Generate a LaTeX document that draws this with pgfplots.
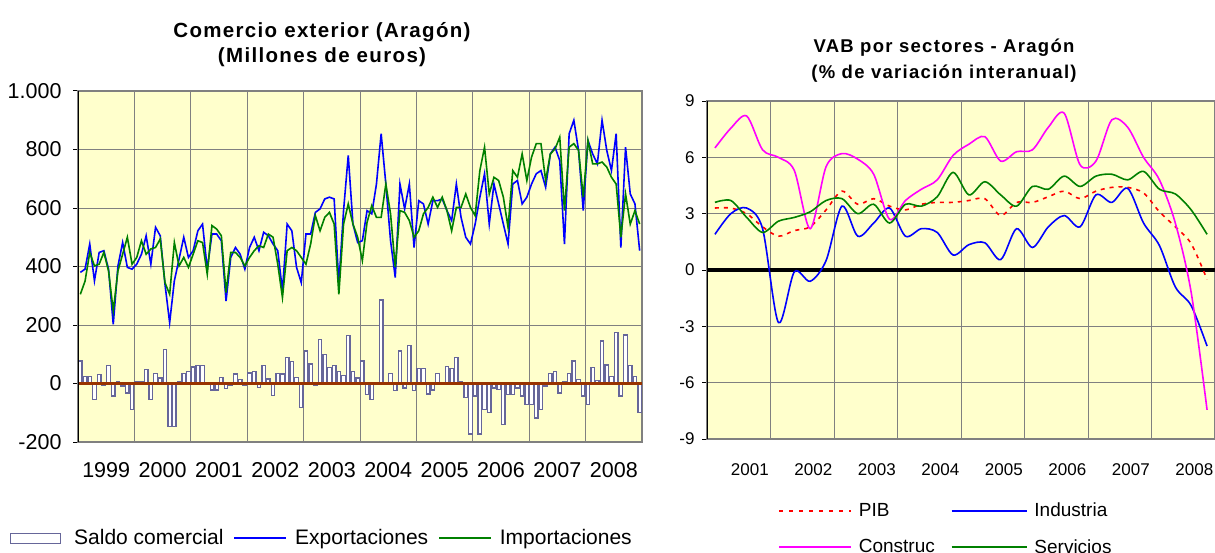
\documentclass[border=0pt]{standalone}
\usepackage{pgfplots}
\usepackage{pgfplotstable}
\pgfplotsset{compat=1.18}
\usepackage{fontspec}
\setmainfont{Liberation Sans}
\newfontfamily\titlefontA[LetterSpace=6.5]{Liberation Sans}
\newfontfamily\titlefontB[LetterSpace=7]{Liberation Sans}
\definecolor{bgy}{RGB}{255,255,204}
\definecolor{gridg}{RGB}{128,128,128}
\definecolor{slate}{RGB}{102,102,153}
\definecolor{brn}{RGB}{153,51,0}
\definecolor{dgreen}{RGB}{0,128,0}
\definecolor{pblue}{RGB}{0,0,255}
\definecolor{pred}{RGB}{255,0,0}
\definecolor{ppink}{RGB}{255,0,255}

\pgfplotstableread{
i exp imp sal
0 380 305 77
1 391 350 25
2 477 448 25
3 351 402 -55
4 448 408 31
5 454 448 -8
6 391 385 62
7 202 248 -43
8 402 385 8
9 482 442 -9
10 397 500 -32
11 391 408 -89
12 408 431 5
13 442 488 8
14 505 442 48
15 408 460 -55
16 534 465 33
17 505 494 19
18 340 345 117
19 208 305 -146
20 351 482 -146
21 425 402 8
22 500 431 35
23 431 397 40
24 454 442 56
25 522 488 62
26 545 482 62
27 391 374 2
28 511 540 -22
29 511 528 -22
30 488 505 20
31 282 311 -16
32 431 448 -6
33 465 448 32
34 442 431 14
35 391 402 -6
36 465 431 36
37 500 454 40
38 454 471 -14
39 517 465 62
40 505 511 15
41 477 500 -42
42 454 408 33
43 317 294 32
44 545 454 89
45 522 465 76
46 397 454 20
47 345 431 -82
48 511 408 111
49 511 477 67
50 585 574 -5
51 597 522 150
52 631 568 99
53 637 585 54
54 631 545 62
55 340 305 40
56 591 545 27
57 780 614 165
58 545 545 40
59 482 500 19
60 488 420 77
61 591 551 -38
62 580 608 -55
63 682 568 0
64 854 568 285
65 682 682 0
66 488 580 33
67 362 397 -23
68 682 591 111
69 597 585 -15
70 682 557 130
71 465 500 -23
72 625 522 51
73 614 580 51
74 545 602 -36
75 625 637 -22
76 625 602 34
77 631 637 0
78 591 591 57
79 557 522 51
80 682 602 88
81 568 602 8
82 500 648 -49
83 477 602 -173
84 545 574 -43
85 637 728 -173
86 717 808 -89
87 545 648 -100
88 682 705 -15
89 614 694 -20
90 545 637 -140
91 477 534 -38
92 682 728 -38
93 694 705 -15
94 614 785 -43
95 637 694 -72
96 682 774 -72
97 717 820 -118
98 728 820 -89
99 671 694 -9
100 785 785 33
101 808 802 40
102 762 842 -32
103 477 591 5
104 854 808 33
105 900 820 77
106 797 797 14
107 591 637 -43
108 831 831 -72
109 785 751 54
110 751 751 10
111 900 757 145
112 797 740 63
113 728 705 25
114 854 682 174
115 465 500 -43
116 808 648 166
117 648 545 62
118 614 591 25
119 454 545 -100
}\comercio

\pgfplotstableread{
k pib ind con ser
0 3.3 1.9 6.5 3.6
1 3.3 3.0 7.55 3.7
2 3.0 3.3 8.2 2.8
3 2.3 2.2 6.4 2.0
4 1.8 -2.8 6.0 2.6
5 2.1 -0.1 5.3 2.8
6 2.3 -0.6 2.2 3.1
7 3.2 0.5 5.5 3.7
8 4.2 3.4 6.2 3.8
9 3.5 1.8 5.9 3.0
10 3.8 2.5 5.1 3.5
11 3.4 3.3 2.7 2.5
12 3.2 1.8 3.7 3.5
13 3.5 2.2 4.3 3.4
14 3.6 2.0 4.8 3.9
15 3.6 0.8 6.1 5.2
16 3.7 1.35 6.7 4.0
17 3.8 1.45 7.1 4.7
18 2.9 0.55 5.8 4.0
19 3.6 2.2 6.3 3.4
20 3.6 1.2 6.4 4.45
21 3.9 2.3 7.6 4.3
22 4.2 2.9 8.35 5.0
23 3.8 2.3 5.6 4.45
24 4.2 4.0 5.8 5.0
25 4.4 3.6 8.0 5.1
26 4.4 4.35 7.6 4.8
27 4.1 2.5 6.0 5.25
28 3.1 1.3 4.8 4.3
29 2.3 -0.9 2.5 4.05
30 1.4 -1.9 -1.2 3.2
31 -0.5 -4.05 -7.45 1.9
}\vab

\begin{document}
\begin{tikzpicture}[x=1pt,y=1pt]
\clip (0,0) rectangle (1215,552);
\fill[white] (0,0) rectangle (1215,552);

\node[font=\titlefontA\bfseries\fontsize{20.5}{25}\selectfont, align=center] at (322,507) {Comercio exterior (Aragón)\\(Millones de euros)};
\node[font=\titlefontB\bfseries\fontsize{18.5}{26}\selectfont, align=center] at (944,491) {VAB por sectores - Aragón\\(\% de variación interanual)};

\begin{axis}[
  at={(78pt,110pt)}, anchor=south west,
  width=564pt, height=351pt, scale only axis,
  xmin=-0.5, xmax=119.5, ymin=-200, ymax=1000,
  axis background/.style={fill=bgy},
  axis line style={gridg, line width=1.2pt},
  ytick={-200,0,200,400,600,800,1000},
  yticklabels={-200,0,200,400,600,800,1.000},
  ytick pos=left, ytick align=outside, major tick length=5pt,
  ytick style={black, line width=1pt},
  xtick={5.5,17.5,...,113.5},
  xticklabels={1999,2000,2001,2002,2003,2004,2005,2006,2007,2008},
  xtick style={draw=none},
  minor xtick={11.5,23.5,...,107.5},
  minor x tick style={draw=none},
  xminorgrids, ymajorgrids,
  major grid style={gridg, line width=1pt},
  minor grid style={gridg, line width=1pt},
  tick label style={font=\fontsize{21.5}{24}\selectfont},
  xticklabel style={yshift=-17pt},
  yticklabel style={xshift=-8pt},
  legend columns=3,
  legend style={at={(axis description cs:-0.1206,-0.2735)}, anchor=west, draw=none, fill=none,
    font=\fontsize{21}{24}\selectfont, inner sep=0pt,
    /tikz/column 1/.style={column sep=13pt},
    /tikz/column 2/.style={column sep=10pt},
    /tikz/column 3/.style={column sep=8pt},
    /tikz/column 4/.style={column sep=10pt},
    /tikz/column 5/.style={column sep=8pt},
    nodes={inner sep=0pt}},
]
\addplot[ybar, bar width=3.5pt, draw=slate, fill=white, line width=1.3pt,
  legend image code/.code={\draw[draw=slate, line width=1pt, fill=white] (0pt,-5pt) rectangle (50pt,5pt);}]
  table[x=i, y=sal] {\comercio};
\addlegendentry{Saldo comercial}
\addplot[pblue, line width=1.6pt, mark=none,
  legend image code/.code={\draw[pblue, line width=1.6pt] (0pt,0pt) -- (52pt,0pt);}]
  table[x=i, y=exp] {\comercio};
\addlegendentry{Exportaciones}
\addplot[dgreen, line width=1.6pt, mark=none,
  legend image code/.code={\draw[dgreen, line width=1.6pt] (0pt,0pt) -- (52pt,0pt);}]
  table[x=i, y=imp] {\comercio};
\addlegendentry{Importaciones}
\draw[brn, line width=3pt] (axis cs:-0.5,0) -- (axis cs:119.5,0);
\draw[black, line width=1.4pt] (rel axis cs:0,0) -- (rel axis cs:0,1);
\end{axis}

\begin{axis}[
  at={(707pt,113pt)}, anchor=south west,
  width=508pt, height=338pt, scale only axis,
  xmin=-0.5, xmax=31.5, ymin=-9, ymax=9,
  axis background/.style={fill=bgy},
  axis line style={gridg, line width=1.2pt},
  ytick={-9,-6,...,9},
  yticklabels={-9,-6,-3,0,3,6,9},
  ytick pos=left, ytick align=outside, major tick length=5pt,
  ytick style={black, line width=1pt},
  xtick={2.2,6.2,...,30.2},
  xticklabels={2001,2002,2003,2004,2005,2006,2007,2008},
  xtick style={draw=none},
  minor xtick={3.5,7.5,...,27.5},
  minor x tick style={draw=none},
  xminorgrids, ymajorgrids,
  major grid style={gridg, line width=1pt},
  minor grid style={gridg, line width=1pt},
  tick label style={font=\fontsize{17}{20}\selectfont},
  xticklabel style={yshift=-21pt},
  yticklabel style={xshift=-4pt},
  legend columns=2,
  legend cell align=left,
  legend style={at={(axis description cs:0.1398,-0.189)}, anchor=north west, draw=none, fill=none,
    font=\fontsize{19}{22}\selectfont, inner sep=0pt,
    /tikz/column 1/.style={column sep=7pt},
    /tikz/column 2/.style={column sep=16pt},
    /tikz/column 3/.style={column sep=7pt},
    /tikz/row sep=21pt,
    nodes={inner sep=0pt}},
]
\addplot[black, line width=3.5pt, forget plot] coordinates {(-0.5,0) (31.5,0)};
\addplot[pred, line width=1.6pt, dash pattern=on 4pt off 5pt, smooth, tension=0.5, mark=none,
  legend image code/.code={\draw[pred, line width=1.6pt, dash pattern=on 4pt off 6pt] (0pt,0pt) -- (72pt,0pt);}]
  table[x=k, y=pib] {\vab};
\addlegendentry{PIB}
\addplot[pblue, line width=1.6pt, smooth, tension=0.5, mark=none,
  legend image code/.code={\draw[pblue, line width=1.6pt] (0pt,0pt) -- (75pt,0pt);}]
  table[x=k, y=ind] {\vab};
\addlegendentry{Industria}
\addplot[ppink, line width=1.6pt, smooth, tension=0.5, mark=none,
  legend image code/.code={\draw[ppink, line width=1.6pt] (0pt,0pt) -- (72pt,0pt);}]
  table[x=k, y=con] {\vab};
\addlegendentry{Construc}
\addplot[dgreen, line width=1.6pt, smooth, tension=0.5, mark=none,
  legend image code/.code={\draw[dgreen, line width=1.6pt] (0pt,0pt) -- (75pt,0pt);}]
  table[x=k, y=ser] {\vab};
\addlegendentry{Servicios}
\draw[black, line width=1.4pt] (rel axis cs:0,0) -- (rel axis cs:0,1);
\end{axis}
\end{tikzpicture}
\end{document}
